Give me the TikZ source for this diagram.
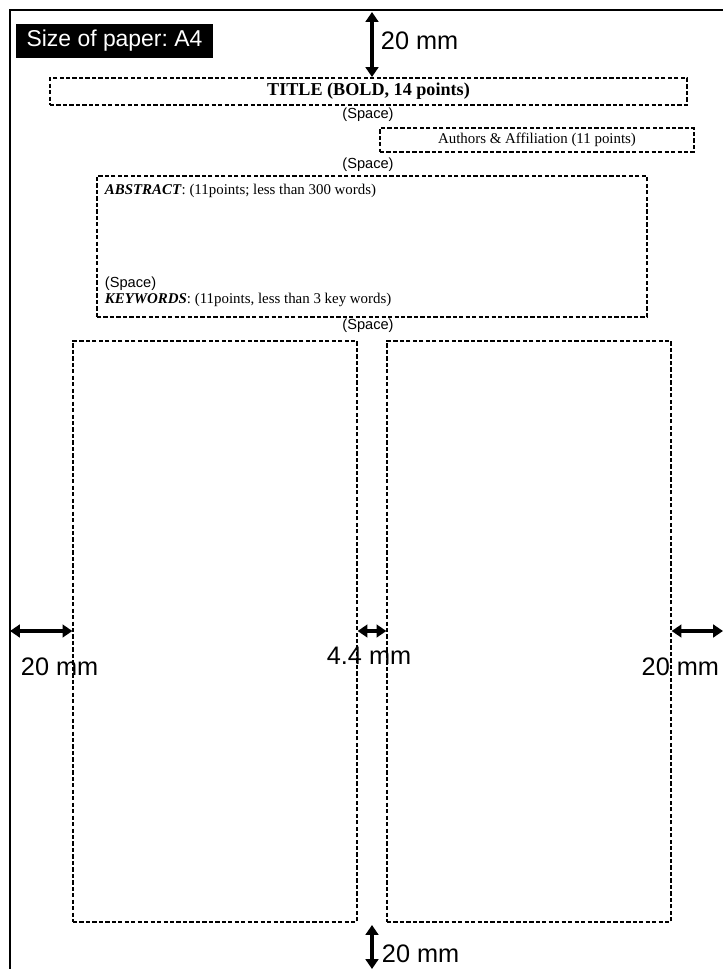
\documentclass[tikz,border=0pt]{standalone}
\usepackage{fontspec}
\setmainfont{Liberation Serif}
\setsansfont{Liberation Sans}
\usetikzlibrary{arrows.meta}
\begin{document}
\frenchspacing
\begin{tikzpicture}[x=0.025cm, y=-0.025cm,
  dbox/.style={draw, dash pattern=on 3pt off 1.6pt, line width=0.9pt, inner sep=0pt},
  gap/.style={font=\sffamily\fontsize{10.4}{12}\selectfont},
  txt/.style={anchor=west, font=\fontsize{10.6}{12}\selectfont},
  dim/.style={line width=2.6pt, {Triangle[width=9pt,length=7pt]}-{Triangle[width=9pt,length=7pt]}},
  mm/.style={font=\sffamily\fontsize{18}{20}\selectfont}]
\useasboundingbox (0,0) rectangle (723,969);
% page edge
\draw[line width=1.4pt] (723,10) -- (10,10) -- (10,969);
\node[fill=black, text=white, font=\sffamily\fontsize{16.3}{18}\selectfont,
  minimum width=197*0.025cm, minimum height=34*0.025cm, inner sep=0pt] (paper) at (114.5,41) {Size of paper: A4};
% header boxes
\node[dbox, minimum width=637*0.025cm, minimum height=27*0.025cm,
  font=\bfseries\fontsize{12.9}{14}\selectfont] (title) at (368.5,91.5) {TITLE (BOLD, 14 points)};
\node[dbox, minimum width=314*0.025cm, minimum height=24*0.025cm,
  font=\fontsize{10.6}{12}\selectfont] (authors) at (537,140) {Authors \& Affiliation (11 points)};
\node[dbox, minimum width=550*0.025cm, minimum height=141*0.025cm] (abstract) at (372,246.5) {};
\node[txt] (abs) at (100,191) {\textbf{\textit{ABSTRACT}}: (11points; less than 300 words)};
\node[gap, anchor=west] (absgap) at (100,284) {(Space)};
\node[txt] (keys) at (100,300) {\textbf{\textit{KEYWORDS}}: (11points, less than 3 key words)};
\foreach \y/\n in {115/s1,165/s2,326/s3} {\node[gap] (\n) at (368,\y) {(Space)};}
% columns
\node[dbox, minimum width=284*0.025cm, minimum height=581*0.025cm] (colL) at (215,631.5) {};
\node[dbox, minimum width=284*0.025cm, minimum height=581*0.025cm] (colR) at (529,631.5) {};
% margins
\coordinate (topE) at (372,12);
\coordinate (topB) at (372,77);
\coordinate (leftE) at (10,631);
\coordinate (rightE) at (723,631);
\coordinate (botB) at (372,925);
\coordinate (botE) at (372,969);
\draw[dim] (topE) -- (topB);
\draw[dim] (leftE) -- (colL.west |- leftE);
\draw[dim] (colL.east |- leftE) -- (colR.west |- leftE);
\draw[dim] (colR.east |- rightE) -- (rightE);
\draw[dim] (botB) -- (botE);
\node[mm, anchor=west] (mtop) at (376,41) {20 mm};
\node[mm, anchor=west] (mleft) at (16,667) {20 mm};
\node[mm] (mmid) at (369,656) {4.4 mm};
\node[mm, anchor=east] (mright) at (724,667) {20 mm};
\node[mm, anchor=west] (mbot) at (377,954) {20 mm};
\end{tikzpicture}
\end{document}
